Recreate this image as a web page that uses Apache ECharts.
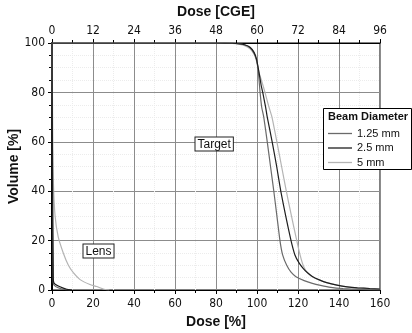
<!DOCTYPE html>
<html><head><meta charset="utf-8">
<script src="https://cdn.jsdelivr.net/npm/echarts@6/dist/echarts.min.js"></script>
<style>html,body{margin:0;padding:0;background:#fff}#c{width:412px;height:333px}</style>
</head><body><div id="c"></div>
<script>
// ---- tick definitions ----
const doseTicks = [0, 20, 40, 60, 80, 100, 120, 140, 160];      // Dose [%]
const cgeTicks = [0, 12, 24, 36, 48, 60, 72, 84, 96];           // Dose [CGE]
const volumeTicks = [0, 20, 40, 60, 80, 100];                   // Volume [%]
const seriesNames = ['1.25 mm', '2.5 mm', '5 mm'];

// ---- Target DVH curves: [dose %, volume %] ----
const target125 = [[0,100],[80,100],[88,99.9],[91,99.7],[94,99.2],[96.6,98.1],[98.5,96],[99.8,93],[100.7,88],[101.5,80],[102.3,74],[103.3,70],[105,60],[106.6,50],[108.2,40],[109.7,30],[111.2,20],[112.5,14.2],[114.5,10],[116.6,7.2],[119,5.4],[123,3.8],[127,2.7],[131,1.9],[136,1.1],[142,0.6],[150,0.25],[160,0.05]];
const target25 = [[0,100],[80,100],[88,99.9],[91,99.7],[94,99.3],[96.6,98.3],[98.5,96.3],[99.8,93.4],[101,88],[102,83],[102.8,80],[104.2,74],[105,70],[107.4,60],[109.6,50],[111.6,40],[114,30],[116.6,20],[118.5,14.2],[120.5,11],[122.5,8.8],[124.5,7.1],[127,5.5],[130.7,4],[134,3],[139,2],[144,1.3],[149,0.9],[155,0.6],[160,0.4]];
const target5 = [[0,100],[80,100],[88,99.8],[91,99.5],[94,98.9],[96.6,97.7],[98.5,95.6],[99.8,92.8],[101,88],[102.5,84],[103.9,80],[105.5,75],[107.3,70],[109.7,60],[112,50],[114.3,40],[116.8,30],[119.4,20],[121,14.2],[122.5,10],[124,7.6],[126.5,5.6],[130.5,4],[134,3],[139,2],[144,1.3],[149,0.9],[155,0.6],[160,0.4]];

// ---- Lens DVH curves ----
const lens125 = [[0,100],[0.3,30],[0.6,3],[1,2],[3,0.9],[6,0.2],[9,0]];
const lens25 = [[0,100],[0.3,40],[0.6,5],[1,2.8],[3.9,1.3],[7.2,0.3],[10,0]];
const lens5 = [[0,100],[0.2,80],[0.4,60],[0.7,43],[1.5,30],[3,21.6],[5.5,15],[8,10],[10.4,7],[13.7,4.2],[18.5,2.2],[21.8,1.4],[25,0.4],[28,0]];

const colors = {'1.25 mm': '#6a6a6a', '2.5 mm': '#1e1e1e', '5 mm': '#b4b4b4'};

const tickFont = '"Liberation Sans Narrow","DejaVu Sans Condensed","Liberation Sans",sans-serif';
const nameFont = '"Liberation Sans","Noto Sans CJK JP",sans-serif';

function mkSeries(name, data) {
  return {
    name: name, type: 'line', data: data, symbol: 'none', smooth: 0.15,
    xAxisIndex: 0, yAxisIndex: 0,
    lineStyle: {color: colors[name], width: 1.2},
    itemStyle: {color: colors[name]},
    emphasis: {disabled: true}
  };
}

const chart = echarts.init(document.getElementById('c'), null, {renderer: 'canvas'});
const step = a => a[1] - a[0];
chart.setOption({
  animation: false,
  backgroundColor: '#fff',
  grid: {left: 52, right: 32, top: 43, bottom: 43, containLabel: false, outerBoundsMode: 'none',
         show: true, borderColor: '#000', borderWidth: 1, backgroundColor: 'transparent'},
  xAxis: [{
    type: 'value', position: 'bottom',
    min: doseTicks[0], max: doseTicks[doseTicks.length - 1], interval: step(doseTicks),
    name: 'Dose [%]', nameLocation: 'middle', nameGap: 25, nameMoveOverlap: false,
    nameTextStyle: {fontFamily: nameFont, fontSize: 14, fontWeight: 'bold', color: '#111'},
    axisLine: {show: true, lineStyle: {color: '#000', width: 1}},
    axisTick: {show: true, inside: false, length: 4, lineStyle: {color: '#000'}},
    minorTick: {show: true, splitNumber: 2, length: 3, lineStyle: {color: '#000'}},
    axisLabel: {fontFamily: tickFont, fontSize: 12, color: '#111', margin: 8},
    splitLine: {show: true, lineStyle: {color: '#8c8c8c', width: 1}},
    minorSplitLine: {show: true, lineStyle: {color: '#ececec', width: 1, type: 'dotted'}}
  }, {
    type: 'value', position: 'top',
    min: cgeTicks[0], max: cgeTicks[cgeTicks.length - 1], interval: step(cgeTicks),
    name: 'Dose [CGE]', nameLocation: 'middle', nameGap: 24, nameMoveOverlap: false,
    nameTextStyle: {fontFamily: nameFont, fontSize: 14, fontWeight: 'bold', color: '#111'},
    axisLine: {show: true, lineStyle: {color: '#000', width: 1}},
    axisTick: {show: true, inside: false, length: 4, lineStyle: {color: '#000'}},
    minorTick: {show: true, splitNumber: 2, length: 3, lineStyle: {color: '#000'}},
    axisLabel: {fontFamily: tickFont, fontSize: 12, color: '#111', margin: 6},
    splitLine: {show: false}
  }],
  yAxis: [{
    type: 'value',
    min: volumeTicks[0], max: volumeTicks[volumeTicks.length - 1], interval: step(volumeTicks),
    name: 'Volume [%]', nameLocation: 'middle', nameGap: 31, nameMoveOverlap: false,
    nameTextStyle: {fontFamily: nameFont, fontSize: 14, fontWeight: 'bold', color: '#111'},
    axisLine: {show: true, lineStyle: {color: '#000', width: 2}},
    axisTick: {show: true, inside: false, length: 4, lineStyle: {color: '#000'}},
    minorTick: {show: true, splitNumber: 4, length: 3, lineStyle: {color: '#000'}},
    axisLabel: {fontFamily: tickFont, fontSize: 12, color: '#111', margin: 7},
    splitLine: {show: true, lineStyle: {color: '#8c8c8c', width: 1}},
    minorSplitLine: {show: true, lineStyle: {color: '#ececec', width: 1, type: 'dotted'}}
  }],
  legend: {
    data: seriesNames, orient: 'vertical', left: 328, top: 127, padding: 0,
    icon: 'rect', itemWidth: 24, itemHeight: 1.3, itemGap: 1.5, z: 6,
    textStyle: {fontFamily: nameFont, fontSize: 11, color: '#111', lineHeight: 13},
    selectedMode: false
  },
  graphic: [
    {type: 'rect', z: 5, shape: {x: 323.5, y: 108.5, width: 88, height: 61}, style: {fill: '#fff', stroke: '#000', lineWidth: 1}},
    {type: 'text', z: 7, x: 328, y: 111, style: {text: 'Beam Diameter', font: 'bold 11px ' + nameFont, fill: '#111'}},
    {type: 'text', z: 7, x: 195.5, y: 137.5, style: {text: 'Target', font: '12px ' + nameFont, fill: '#111', backgroundColor: '#fff', borderColor: '#222', borderWidth: 1, padding: [1, 2, 0, 2]}},
    {type: 'text', z: 7, x: 83.5, y: 244.5, style: {text: 'Lens', font: '12px ' + nameFont, fill: '#111', backgroundColor: '#fff', borderColor: '#222', borderWidth: 1, padding: [1, 2, 0, 2]}}
  ],
  series: [
    mkSeries('5 mm', target5),
    mkSeries('1.25 mm', target125),
    mkSeries('2.5 mm', target25),
    mkSeries('5 mm', lens5),
    mkSeries('1.25 mm', lens125),
    mkSeries('2.5 mm', lens25)
  ]
});
</script></body></html>
